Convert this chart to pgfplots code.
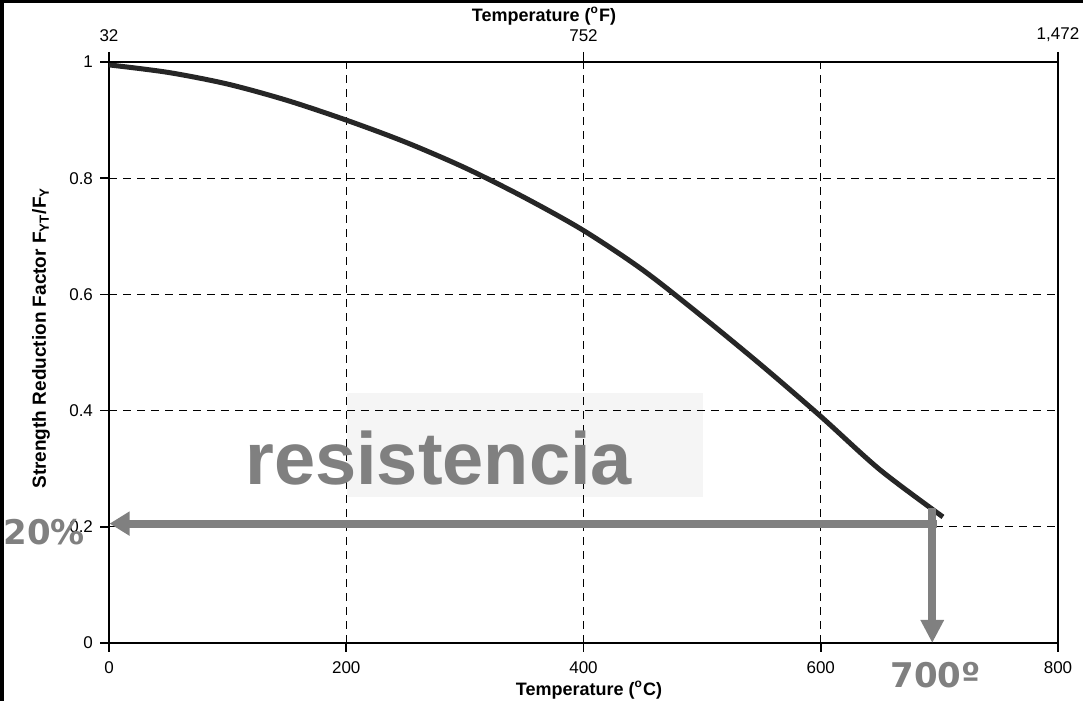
\documentclass[border=0pt]{standalone}
\usepackage{pgfplots}
\pgfplotsset{compat=1.18}
\usepackage{fontspec}
\setmainfont{Liberation Sans}
\newfontfamily\djb{DejaVu Sans}
\usetikzlibrary{arrows.meta}
\definecolor{ovgray}{RGB}{128,128,128}
\begin{document}
\begin{tikzpicture}[x=1pt,y=1pt]
\useasboundingbox (0,0) rectangle (541.5,350.5);
\fill[white] (0,0) rectangle (541.5,350.5);
\begin{axis}[
  at={(54.5pt,29pt)}, anchor=south west,
  scale only axis, width=474.5pt, height=290.5pt,
  xmin=0, xmax=800, ymin=0, ymax=1,
  xtick={0,200,400,600,800}, xticklabels={0,200,400,600,800},
  ytick={0,0.2,0.4,0.6,0.8,1}, yticklabels={0,0.2,0.4,0.6,0.8,1},
  grid=major, grid style={black, line width=0.6pt, dash pattern=on 4pt off 3pt},
  axis line style={line width=1pt},
  tick style={black, line width=0.8pt},
  tick align=outside, major tick length=4.5pt,
  xtick pos=bottom, ytick pos=left,
  tick label style={font=\fontsize{8.5}{10}\selectfont},
  xticklabel style={yshift=-1.5pt},
  clip=false,
]
\fill[black, fill opacity=0.04] (axis cs:200.6,0.251) rectangle (axis cs:500.7,0.43);
\addplot[line width=2.5pt, color=black!85, smooth, tension=0.5] coordinates {
(0,0.995) (50,0.982) (100,0.962) (150,0.934) (200,0.900) (250,0.862)
(300,0.818) (350,0.767) (400,0.710) (450,0.642) (500,0.562)
(550,0.478) (600,0.390) (650,0.298) (703,0.217)
};
\node[anchor=base west, inner sep=0, text=ovgray, font=\bfseries\fontsize{37}{40}\selectfont] at (axis cs:114.6,0.272)
  {resistencia};
\draw[ovgray, line width=4pt, -{Triangle[width=11.5pt,length=10pt]}]
  (axis cs:698,0.2055) -- (axis cs:0.5,0.2055);
\draw[ovgray, line width=4pt, -{Triangle[width=11pt,length=11.5pt]}]
  (axis cs:694,0.232) -- (axis cs:694,0);
\end{axis}
\begin{axis}[
  at={(54.5pt,29pt)}, anchor=south west,
  scale only axis, width=474.5pt, height=290.5pt,
  xmin=32, xmax=1472, ymin=0, ymax=1,
  axis x line*=top, hide y axis,
  xtick={32,752,1472}, xticklabels={32,752,{1,472}},
  axis line style={line width=1pt},
  tick style={black, line width=0.8pt},
  tick align=outside, major tick length=5pt,
  tick label style={font=\fontsize{8.5}{10}\selectfont},
  xticklabel style={yshift=1.5pt},
]
\end{axis}
\node[font=\bfseries\fontsize{9}{10}\selectfont] at (272,342.5) {Temperature (\textsuperscript{o}F)};
\node[font=\bfseries\fontsize{9}{10}\selectfont] at (294.5,5.5) {Temperature (\textsuperscript{o}C)};
\node[rotate=90, font=\bfseries\fontsize{9.5}{10}\selectfont] at (20.5,181.5) {Strength Reduction Factor F\textsubscript{YT}/F\textsubscript{Y}};
\node[anchor=base west, inner sep=0, text=ovgray, font=\djb\bfseries\fontsize{17}{20}\selectfont] at (1.5,78) {20\%};
\node[anchor=base west, inner sep=0, text=ovgray, font=\djb\bfseries\fontsize{17}{20}\selectfont] at (445,6.5) {700º};
\fill[black] (0,0) rectangle (2,350.5);
\fill[black] (0,349) rectangle (541.5,350.5);
\end{tikzpicture}
\end{document}
